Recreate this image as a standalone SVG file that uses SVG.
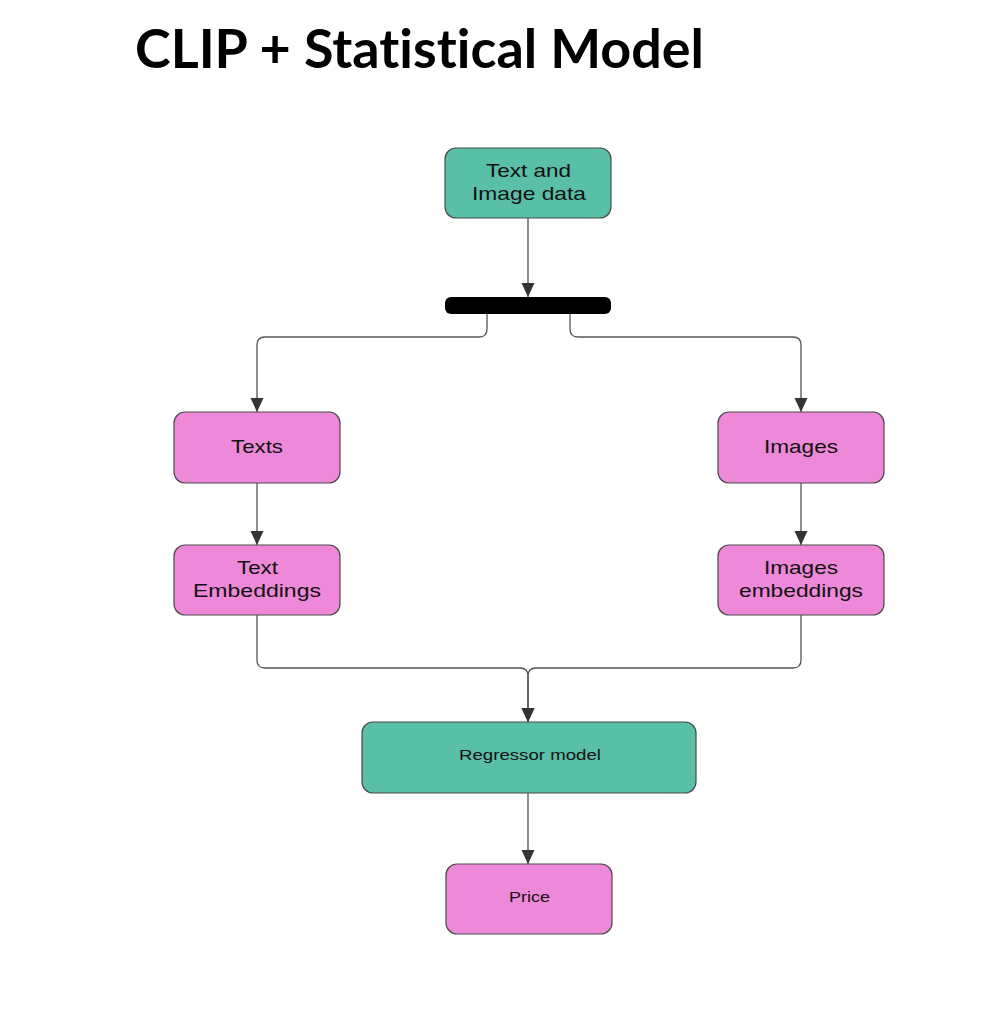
<svg xmlns="http://www.w3.org/2000/svg" width="992" height="1020" viewBox="0 0 992 1020">
<defs>
<marker id="arr" markerUnits="userSpaceOnUse" markerWidth="14" markerHeight="14" refX="14" refY="7" orient="auto" viewBox="0 0 14 14">
<path d="M0,0.5 L14,7 L0,13.5 z" fill="#333333"/>
</marker>
<style>
.title{font-family:Lato,"Liberation Sans",sans-serif;font-weight:bold;font-size:53px;fill:#000;font-variant-ligatures:none}
.teal{fill:#5ABFA9;stroke:#4a4a4a;stroke-width:1.2}
.pink{fill:#EE88D8;stroke:#4a4a4a;stroke-width:1.2}
.lbl{font-family:"Liberation Sans",Arial,sans-serif;font-size:19px;fill:#111;text-anchor:middle}
.sm{font-family:"Liberation Sans",Arial,sans-serif;font-size:15px;fill:#111;text-anchor:middle}
.edge{fill:none;stroke:#555555;stroke-width:1.3}
</style>
</defs>
<rect width="992" height="1020" fill="#ffffff"/>
<text class="title" x="135" y="68" textLength="569" lengthAdjust="spacingAndGlyphs">CLIP + Statistical Model</text>

<g id="connectors">
<path class="edge" d="M528,218 V297" marker-end="url(#arr)"/>
<path class="edge" d="M487,314 V329 Q487,337 479,337 H265 Q257,337 257,345 V412" marker-end="url(#arr)"/>
<path class="edge" d="M570,314 V329 Q570,337 578,337 H793 Q801,337 801,345 V412" marker-end="url(#arr)"/>
<path class="edge" d="M257,483 V545" marker-end="url(#arr)"/>
<path class="edge" d="M801,483 V545" marker-end="url(#arr)"/>
<path class="edge" d="M257,615 V660 Q257,668 265,668 H520 Q528,668 528,676 V722" marker-end="url(#arr)"/>
<path class="edge" d="M801,615 V660 Q801,668 793,668 H536 Q528,668 528,676 V722" marker-end="url(#arr)"/>
<path class="edge" d="M528,793 V864" marker-end="url(#arr)"/>
</g>

<g id="node-data">
<rect class="teal" x="445" y="148" width="166" height="70" rx="11"/>
<text class="lbl" x="528.5" y="177" textLength="85" lengthAdjust="spacingAndGlyphs">Text and</text>
<text class="lbl" x="529" y="200" textLength="114" lengthAdjust="spacingAndGlyphs">Image data</text>
</g>
<g id="node-fork">
<rect x="445" y="297" width="166" height="17" rx="6" fill="#000"/>
</g>
<g id="node-texts">
<rect class="pink" x="174" y="412" width="166" height="71" rx="11"/>
<text class="lbl" x="257" y="453" textLength="52" lengthAdjust="spacingAndGlyphs">Texts</text>
</g>
<g id="node-images">
<rect class="pink" x="718" y="412" width="166" height="71" rx="11"/>
<text class="lbl" x="801" y="453" textLength="74" lengthAdjust="spacingAndGlyphs">Images</text>
</g>
<g id="node-text-emb">
<rect class="pink" x="174" y="545" width="166" height="70" rx="11"/>
<text class="lbl" x="257.5" y="574" textLength="41" lengthAdjust="spacingAndGlyphs">Text</text>
<text class="lbl" x="257" y="597" textLength="128" lengthAdjust="spacingAndGlyphs">Embeddings</text>
</g>
<g id="node-img-emb">
<rect class="pink" x="718" y="545" width="166" height="70" rx="11"/>
<text class="lbl" x="801" y="574" textLength="74" lengthAdjust="spacingAndGlyphs">Images</text>
<text class="lbl" x="801" y="597" textLength="124" lengthAdjust="spacingAndGlyphs">embeddings</text>
</g>
<g id="node-regressor">
<rect class="teal" x="362" y="722" width="334" height="71" rx="11"/>
<text class="sm" x="530" y="760" textLength="142" lengthAdjust="spacingAndGlyphs">Regressor model</text>
</g>
<g id="node-price">
<rect class="pink" x="446" y="864" width="166" height="70" rx="11"/>
<text class="sm" x="529.5" y="902" textLength="41" lengthAdjust="spacingAndGlyphs">Price</text>
</g>
</svg>
